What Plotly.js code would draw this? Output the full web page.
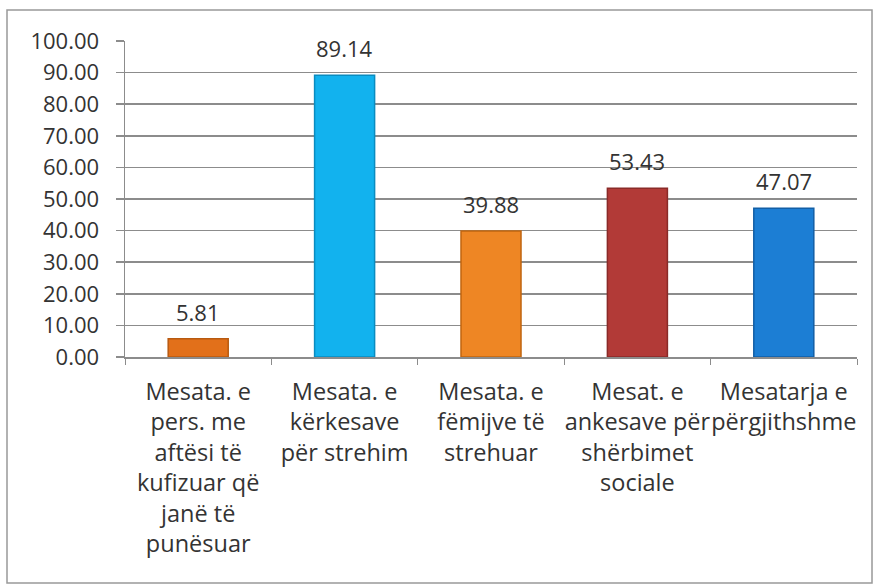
<!DOCTYPE html>
<html>
<head>
<meta charset="utf-8">
<script src="https://cdn.plot.ly/plotly-3.0.1.min.js"></script>
<style>
html,body{margin:0;padding:0;background:#fff;}
#chart{width:873px;height:585px;}
</style>
</head>
<body>
<div id="chart"></div>
<script>
const categories = [
  "Mesata. e<br>pers. me<br>aftësi të<br>kufizuar që<br>janë të<br>punësuar",
  "Mesata. e<br>kërkesave<br>për strehim",
  "Mesata. e<br>fëmijve të<br>strehuar",
  "Mesat. e<br>ankesave për<br>shërbimet<br>sociale",
  "Mesatarja e<br>përgjithshme"
];
const values = [5.81, 89.14, 39.88, 53.43, 47.07];
const labels = ["5.81", "89.14", "39.88", "53.43", "47.07"];
const barColors = ["#E2701A", "#12B2EE", "#EE8624", "#B23A37", "#1C7ED4"];
const lineColors = ["#B85A10", "#0A8CC0", "#C0650F", "#8A2A28", "#125FA6"];
const yTicks = [0, 10, 20, 30, 40, 50, 60, 70, 80, 90, 100];

const font = {family: "Open Sans, Noto Sans, sans-serif", size: 22, color: "#333333"};
const catFont = {family: "Open Sans, Noto Sans, sans-serif", size: 23.5, color: "#333333"};

const trace = {
  type: "bar",
  x: categories,
  y: values,
  marker: {color: barColors, line: {color: lineColors, width: 1.5}},
  hoverinfo: "skip"
};

const annotations = categories.map((c, i) => ({
  x: c, y: values[i], xref: "x", yref: "y",
  text: labels[i], showarrow: false,
  yanchor: "bottom", yshift: 10,
  font: font
}));

const layout = {
  width: 873, height: 585,
  margin: {l: 125, r: 16, t: 41, b: 228},
  paper_bgcolor: "#fff", plot_bgcolor: "#fff",
  bargap: 0.59,
  showlegend: false,
  font: font,
  xaxis: {
    type: "category",
    showline: true, linecolor: "#8c8c8c", linewidth: 1.5,
    ticks: "outside", tickson: "boundaries", ticklen: 6, tickcolor: "#8c8c8c",
    tickfont: catFont, tickangle: 0,
    ticklabelstandoff: 13,
    showgrid: false
  },
  yaxis: {
    range: [0, 100],
    tickvals: yTicks,
    tickformat: ".2f",
    showline: true, linecolor: "#8c8c8c", linewidth: 1.5,
    ticks: "outside", ticklen: 8, tickcolor: "#8c8c8c", tickwidth: 1.5,
    showgrid: true, gridcolor: "#8c8c8c", gridwidth: 1.5,
    zeroline: false,
    tickfont: font,
    ticklabelstandoff: 12
  },
  annotations: annotations,
  shapes: [{
    type: "rect", xref: "paper", yref: "paper",
    x0: -0.1612, x1: 1.0205, y0: -0.715, y1: 1.098,
    line: {color: "#999999", width: 1.5}, fillcolor: "rgba(0,0,0,0)", layer: "below"
  }]
};

Plotly.newPlot("chart", [trace], layout, {displayModeBar: false, staticPlot: true});
</script>
</body>
</html>
